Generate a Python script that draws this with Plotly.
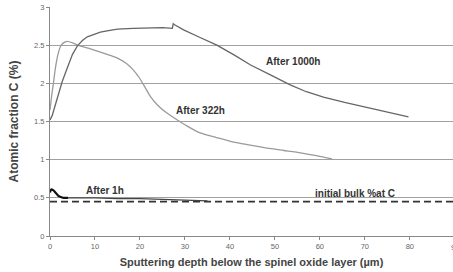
import plotly.graph_objects as go

# After 1000h
x_1000 = [0, 0.5, 1.0, 1.7, 2.7, 3.9, 5.0, 6.1, 7.2, 8.3, 9.8, 11.2, 13.0, 15.0, 18.5, 22.3, 25.0, 27.2, 27.4, 27.6, 28.5, 29.7, 33.0, 37.1, 41.0, 44.6, 49.0, 53.4, 57.0, 60.8, 65.5, 70.5, 75.0, 79.7]
y_1000 = [1.52, 1.58, 1.68, 1.82, 2.02, 2.21, 2.38, 2.49, 2.56, 2.61, 2.64, 2.67, 2.69, 2.71, 2.72, 2.73, 2.73, 2.72, 2.78, 2.77, 2.74, 2.70, 2.61, 2.50, 2.37, 2.24, 2.11, 1.98, 1.89, 1.82, 1.75, 1.68, 1.62, 1.56]

# After 322h
x_322 = [0, 0.4, 0.8, 1.2, 1.7, 2.3, 3.0, 3.8, 5.0, 6.1, 8.5, 11.2, 13.2, 15.0, 17.0, 18.6, 20.0, 21.2, 22.3, 24.0, 26.0, 28.3, 30.5, 33.4, 37.0, 40.8, 44.5, 48.3, 52.0, 55.7, 59.5, 62.7]
y_322 = [1.65, 1.85, 2.02, 2.20, 2.36, 2.48, 2.53, 2.55, 2.53, 2.50, 2.46, 2.41, 2.37, 2.33, 2.26, 2.17, 2.06, 1.94, 1.83, 1.71, 1.61, 1.52, 1.44, 1.35, 1.29, 1.23, 1.19, 1.15, 1.12, 1.09, 1.05, 1.01]

# After 1h
x_1h = [0, 0.3, 0.7, 1.2, 1.8, 2.4, 3.0, 4.0, 6.0, 10.0, 15.0, 20.0, 25.0, 30.0, 35.0]
y_1h = [0.57, 0.61, 0.60, 0.57, 0.53, 0.51, 0.50, 0.50, 0.50, 0.50, 0.49, 0.49, 0.48, 0.47, 0.46]
head_end = 8  # thick initial part of the 1h profile

# initial bulk
x_bulk = [0, 90]
y_bulk = [0.45, 0.45]

x_ticks = [0, 10, 20, 30, 40, 50, 60, 70, 80, 90]
y_ticks = [0, 0.5, 1, 1.5, 2, 2.5, 3]
y_tick_labels = ["0", "0.5", "1", "1.5", "2", "2.5", "3"]

labels = [
    ("After 1000h", 54.1, 2.28),
    ("After 322h", 33.4, 1.65),
    ("After 1h", 12.3, 0.60),
    ("initial bulk %at C", 67.9, 0.56),
]

font = "Liberation Sans, Arial, sans-serif"

fig = go.Figure()
fig.add_trace(go.Scatter(x=x_bulk, y=y_bulk, mode="lines",
                         line=dict(color="#333333", width=1.6, dash="7px,4px")))
fig.add_trace(go.Scatter(x=x_322, y=y_322, mode="lines", line_shape="spline",
                         line=dict(color="#9a9a9a", width=1.3, smoothing=0.6)))
fig.add_trace(go.Scatter(x=x_1000, y=y_1000, mode="lines",
                         line=dict(color="#666666", width=1.3)))
fig.add_trace(go.Scatter(x=x_1h[head_end - 1:], y=y_1h[head_end - 1:], mode="lines",
                         line=dict(color="#444444", width=1.2)))
fig.add_trace(go.Scatter(x=x_1h[:head_end], y=y_1h[:head_end], mode="lines",
                         line_shape="spline",
                         line=dict(color="#111111", width=2.2)))

for text, x, y in labels:
    fig.add_annotation(x=x, y=y, text="<b>%s</b>" % text, showarrow=False,
                       font=dict(family=font, size=10, color="#333333"))

# partially visible "90" tick label at the right edge
fig.add_annotation(x=1, y=0, xref="paper", yref="paper", xanchor="left", yanchor="top",
                   xshift=-4, yshift=-5, text="90", showarrow=False,
                   font=dict(family=font, size=7.5, color="#666666"))

fig.update_layout(
    width=453, height=272,
    margin=dict(l=50, r=0, t=7, b=36),
    paper_bgcolor="white", plot_bgcolor="white",
    showlegend=False,
    xaxis=dict(range=[0, 89.6], tickvals=x_ticks, showgrid=False, zeroline=False,
               automargin=False,
               showline=True, linecolor="#888888", linewidth=1,
               ticks="outside", ticklen=3, tickcolor="#888888",
               tickfont=dict(family=font, size=7.5, color="#666666"),
               title=dict(text="<b>Sputtering depth below the spinel oxide layer (µm)</b>",
                          font=dict(family=font, size=11, color="#444444"), standoff=8)),
    yaxis=dict(range=[0, 3], tickvals=y_ticks, ticktext=y_tick_labels,
               automargin=False,
               showgrid=True, gridcolor="#a0a0a0", gridwidth=1, zeroline=False,
               showline=True, linecolor="#888888", linewidth=1,
               ticks="outside", ticklen=3, tickcolor="#888888",
               tickfont=dict(family=font, size=7.5, color="#666666"),
               title=dict(text="<b>Atomic fraction C (%)</b>",
                          font=dict(family=font, size=12, color="#444444"), standoff=12)),
)

fig.write_html("out.html", config={"displayModeBar": False},
               post_script="document.body.style.margin='0';document.body.style.overflow='hidden';")
